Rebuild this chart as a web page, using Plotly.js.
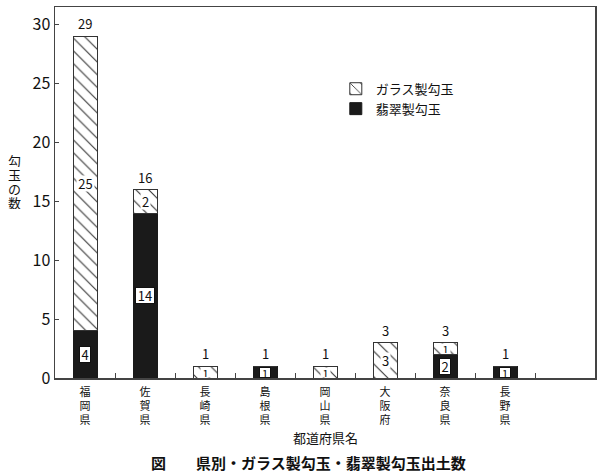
<!DOCTYPE html>
<html>
<head>
<meta charset="utf-8">
<script src="https://cdn.plot.ly/plotly-3.0.1.min.js"></script>
<style>
  body { margin: 0; background: #fff; }
  #chart { width: 600px; height: 474px; }
</style>
</head>
<body>
<div id="chart"></div>
<script>
// prefectures (x categories)
var prefs = ['福岡県', '佐賀県', '長崎県', '島根県', '岡山県', '大阪府', '奈良県', '長野県']
// jade magatama (black, bottom) and glass magatama (hatched, top)
var jade = [4, 14, 0, 1, 0, 0, 2, 1]
var glass = [25, 2, 1, 0, 1, 3, 1, 0]

var font = '"Noto Sans CJK JP", "Noto Sans", sans-serif'

// vertical tick labels: one character per line
var tickText = prefs.map(function (p) { return p.split('').join('<br>') })

var data = [
    {
        name: '翡翠製勾玉',
        x: prefs,
        y: jade,
        type: 'bar',
        width: 0.4,
        marker: { color: '#1a1a1a', line: { color: '#1a1a1a', width: 1 } },
        hoverinfo: 'none'
    },
    {
        name: 'ガラス製勾玉',
        x: prefs,
        y: glass,
        type: 'bar',
        width: 0.4,
        marker: {
            color: '#fff',
            line: { color: '#333', width: 1 },
            pattern: { shape: '\\', fgcolor: '#333', bgcolor: '#fff', size: 9, solidity: 0.12 }
        },
        hoverinfo: 'none'
    }
]

var annotations = []
prefs.forEach(function (p, i) {
    var total = jade[i] + glass[i]
    // total on top
    annotations.push({
        x: p, y: total, xref: 'x', yref: 'y', text: String(total),
        showarrow: false, yanchor: 'bottom', yshift: 1,
        font: { family: font, size: 13, color: '#111' }
    })
    // value boxes inside the segments
    if (jade[i] > 0) {
        annotations.push({
            x: p, y: jade[i] / 2, xref: 'x', yref: 'y', text: String(jade[i]),
            showarrow: false, bgcolor: '#fff', bordercolor: '#111', borderwidth: 1, borderpad: 0,
            height: jade[i] > 1 ? 15 : 9, width: jade[i] > 9 ? 18 : 10,
            font: { family: font, size: jade[i] > 1 ? 13 : 11, color: '#111' }
        })
    }
    if (glass[i] > 0) {
        annotations.push({
            x: p, y: jade[i] + glass[i] / 2, xref: 'x', yref: 'y', text: String(glass[i]),
            showarrow: false, bgcolor: '#fff', borderpad: 0,
            height: glass[i] > 1 ? 15 : 9, width: glass[i] > 9 ? 17 : 9,
            font: { family: font, size: glass[i] > 1 ? 13 : 11, color: '#111' }
        })
    }
})

// y axis title, upright stacked characters, one annotation each
'勾玉の数'.split('').forEach(function (ch, k) {
    annotations.push({
        xref: 'paper', yref: 'paper', x: -0.075, y: 0.53, yshift: 21 - k * 14,
        xanchor: 'center', yanchor: 'middle', height: 13, borderpad: 0,
        text: ch, showarrow: false,
        font: { family: font, size: 13, color: '#111' }
    })
})
// x axis title
annotations.push({
    xref: 'paper', yref: 'paper', x: 0.5, y: 0, yshift: -59, xanchor: 'center', yanchor: 'middle',
    text: '都道府県名', showarrow: false,
    font: { family: font, size: 13, color: '#111' }
})
// figure caption
annotations.push({
    xref: 'paper', yref: 'paper', x: 0.47, y: 0, yshift: -84, xanchor: 'center', yanchor: 'middle',
    text: '図　　県別・ガラス製勾玉・翡翠製勾玉出土数', showarrow: false,
    font: { family: font, size: 15, color: '#111', weight: 'bold' }
})

var layout = {
    width: 600,
    height: 474,
    margin: { l: 55, r: 5, t: 7, b: 96 },
    paper_bgcolor: '#fff',
    plot_bgcolor: '#fff',
    barmode: 'stack',
    font: { family: font, color: '#111' },
    showlegend: true,
    legend: {
        x: 0.52, y: 0.82, xanchor: 'left', yanchor: 'top',
        traceorder: 'reversed',
        bgcolor: 'rgba(0,0,0,0)',
        font: { family: font, size: 13, color: '#111' },
        itemwidth: 30
    },
    xaxis: {
        type: 'category',
        range: [-0.5, 8.5],
        tickmode: 'array',
        tickvals: prefs,
        ticktext: tickText,
        tickangle: 0,
        tickson: 'boundaries',
        ticks: 'inside',
        ticklen: 5,
        tickcolor: '#444',
        ticklabelstandoff: 3,
        tickfont: { family: font, size: 11, color: '#111' },
        showline: true,
        linecolor: '#444',
        linewidth: 1.5,
        mirror: true,
        showgrid: false,
        zeroline: false,
        fixedrange: true
    },
    yaxis: {
        range: [0, 31.5],
        tickvals: [0, 5, 10, 15, 20, 25, 30],
        ticks: 'inside',
        ticklen: 4,
        tickcolor: '#444',
        tickfont: { family: font, size: 16, color: '#111' },
        showline: true,
        linecolor: '#444',
        linewidth: 1.5,
        mirror: true,
        showgrid: false,
        zeroline: false,
        fixedrange: true
    },
    annotations: annotations
}

Plotly.newPlot('chart', data, layout, { displayModeBar: false, staticPlot: true })
</script>
</body>
</html>
